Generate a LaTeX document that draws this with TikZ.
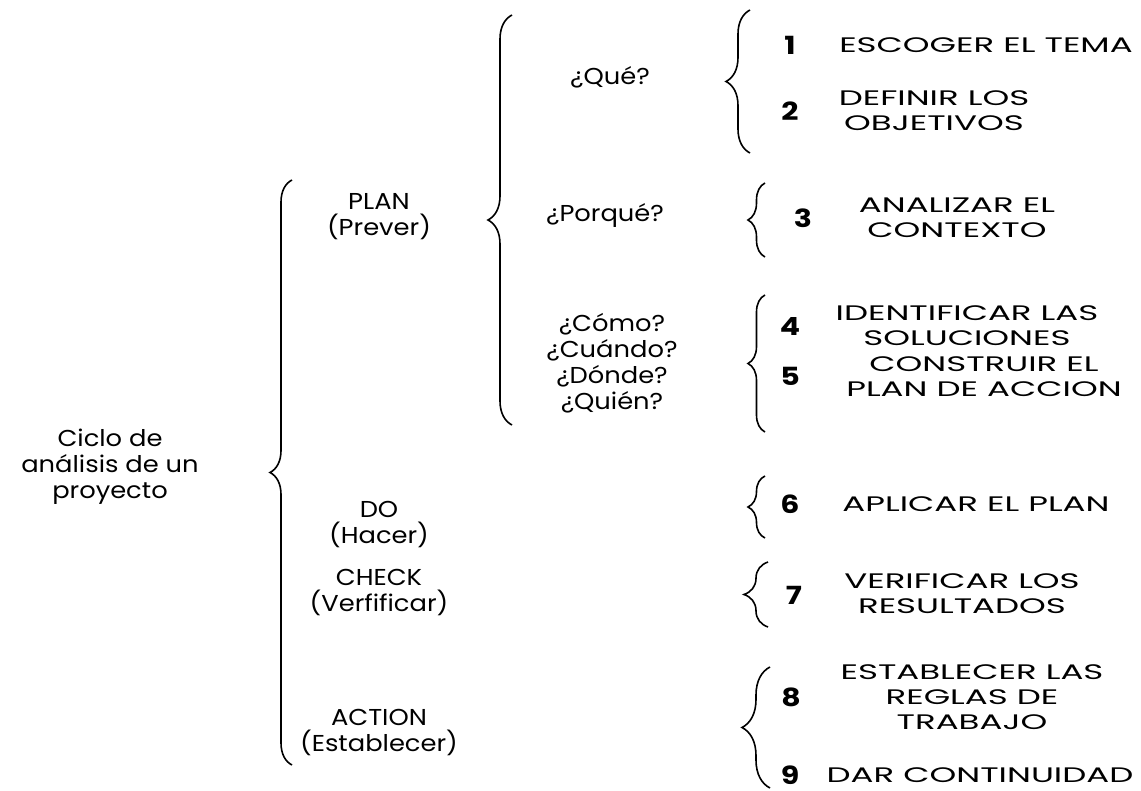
\documentclass[tikz,border=0pt]{standalone}
\usepackage{fontspec}
\setmainfont[FakeStretch=1.12]{Poppins}
\newfontfamily\itemfont[FakeStretch=1.62]{Poppins}
\newfontfamily\numfont[FakeStretch=1.2]{Poppins}
\usetikzlibrary{decorations.pathreplacing}
\begin{document}
\begin{tikzpicture}[x=1pt,y=-1pt,
  every node/.style={font=\fontsize{23}{26}\selectfont, align=center, inner sep=0pt},
  num/.style={font=\numfont\fontsize{25}{26}\selectfont\bfseries},
  item/.style={font=\itemfont\fontsize{21}{25}\selectfont},
  br/.style={decorate, decoration={brace, amplitude=#1}, line width=1.6pt}]
\useasboundingbox (0,0) rectangle (1141,791);
% level 0
\node (ciclo) at (110,467) {Ciclo de\\análisis de un\\proyecto};
\coordinate (b0t) at (292,180);
\coordinate (b0b) at (292,765);
\draw[br=22pt] (b0b) -- (b0t);
% level 1
\node (plan) at (379,217) {PLAN\\(Prever)};
\node (do) at (379,525) {DO\\(Hacer)};
\node (check) at (379,593) {CHECK\\(Verfificar)};
\node (action) at (379,733) {ACTION\\(Establecer)};
\coordinate (b1t) at (512,15);
\coordinate (b1b) at (512,425);
\draw[br=24pt] (b1b) -- (b1t);
% level 2
\node (que) at (610,77) {¿Qué?};
\node (porque) at (605,215) {¿Porqué?};
\node (como) at (612,363) {¿Cómo?\\¿Cuándo?\\¿Dónde?\\¿Quién?};
% braces to items
\coordinate (bqt) at (750,10);  \coordinate (bqb) at (750,153);
\draw[br=24pt] (bqb) -- (bqt);
\coordinate (bpt) at (765,183); \coordinate (bpb) at (765,257);
\draw[br=17pt] (bpb) -- (bpt);
\coordinate (bct) at (765,295); \coordinate (bcb) at (765,432);
\draw[br=17pt] (bcb) -- (bct);
\coordinate (bdt) at (765,476); \coordinate (bdb) at (765,538);
\draw[br=17pt] (bdb) -- (bdt);
\coordinate (bkt) at (768,562); \coordinate (bkb) at (768,627);
\draw[br=24pt] (bkb) -- (bkt);
\coordinate (bat) at (770,667); \coordinate (bab) at (770,788);
\draw[br=28pt] (bab) -- (bat);
% numbers and items
\node[num] (n1) at (790,45) {1};
\node[item] (t1) at (986,45) {ESCOGER EL TEMA};
\node[num] (n2) at (790,111) {2};
\node[item] (t2) at (934,111) {DEFINIR LOS\\OBJETIVOS};
\node[num] (n3) at (803,218) {3};
\node[item] (t3) at (957,218) {ANALIZAR EL\\CONTEXTO};
\node[num] (n4) at (790,327) {4};
\node[item] (t4) at (967,326) {IDENTIFICAR LAS\\SOLUCIONES};
\node[num] (n5) at (790,376) {5};
\node[item] (t5) at (984,377) {CONSTRUIR EL\\PLAN DE ACCION};
\node[num] (n6) at (790,504) {6};
\node[item] (t6) at (976,504) {APLICAR EL PLAN};
\node[num] (n7) at (794,595) {7};
\node[item] (t7) at (962,594) {VERIFICAR LOS\\RESULTADOS};
\node[num] (n8) at (791,697) {8};
\node[item] (t8) at (972,697) {ESTABLECER LAS\\REGLAS DE\\TRABAJO};
\node[num] (n9) at (790,775) {9};
\node[item] (t9) at (980,775) {DAR CONTINUIDAD};
\end{tikzpicture}
\end{document}
